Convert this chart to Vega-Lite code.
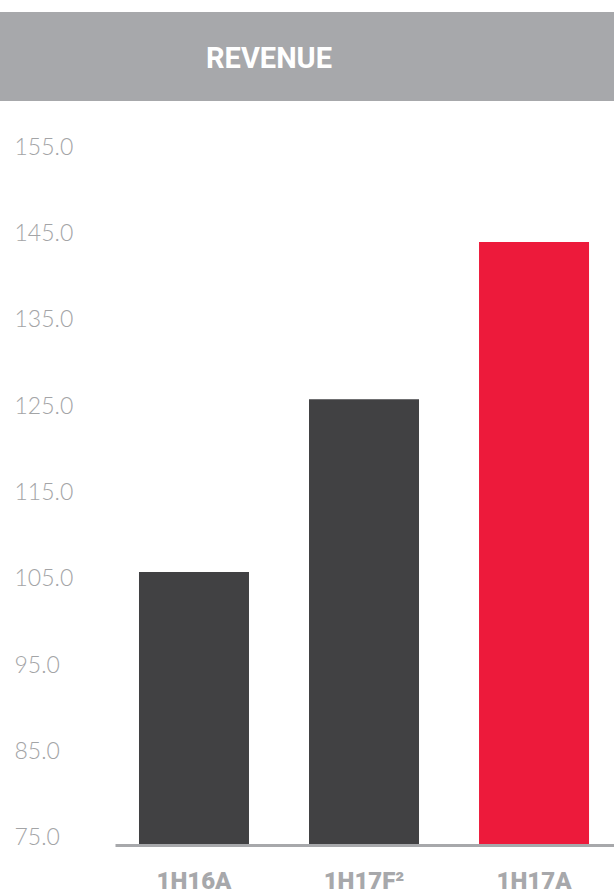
{
  "$schema": "https://vega.github.io/schema/vega-lite/v6.json",
  "width": 614,
  "height": 893,
  "padding": 0,
  "autosize": {"type": "none"},
  "background": "white",
  "config": {"view": {"stroke": null}},
  "layer": [
    {
      "data": {"values": [{"title": "REVENUE"}]},
      "mark": {"type": "rect", "color": "#a7a8ab", "xOffset": 12},
      "encoding": {
        "y": {"datum": 170.63, "type": "quantitative"},
        "y2": {"datum": 160.33}
      }
    },
    {
      "data": {"values": [{"title": "REVENUE"}]},
      "mark": {"type": "text", "color": "white", "font": "Roboto", "fontWeight": "bold", "fontSize": 29, "letterSpacing": 0.6, "baseline": "middle", "align": "center", "xOffset": -38},
      "encoding": {
        "y": {"datum": 165.2, "type": "quantitative"},
        "text": {"field": "title"}
      }
    },
    {
      "data": {"values": [
        {"period": "1H16A", "revenue": 105.8, "kind": "other"},
        {"period": "1H17F²", "revenue": 125.8, "kind": "other"},
        {"period": "1H17A", "revenue": 144.0, "kind": "current"}
      ]},
      "mark": {"type": "bar"},
      "encoding": {
        "x": {
          "field": "period", "type": "nominal",
          "scale": {"domain": ["1H16A", "1H17F²", "1H17A"], "range": [115, 614], "paddingInner": 0.353, "paddingOuter": 0.144, "align": 0.49},
          "axis": {"title": null, "offset": -48, "zindex": 1, "domain": true, "domainColor": "#a7a8ab", "domainWidth": 3, "ticks": false, "labelAngle": 0, "labelPadding": 36, "labelBaseline": "middle", "labelFont": "Roboto", "labelFontWeight": 900, "labelFontSize": 24, "labelColor": "#a7a8ab"}
        },
        "y": {
          "field": "revenue", "type": "quantitative",
          "scale": {"domain": [68.63, 172.02], "nice": false, "zero": false},
          "axis": {"title": null, "domain": false, "ticks": false, "grid": false, "values": [75, 85, 95, 105, 115, 125, 135, 145, 155], "format": ".1f", "labelAlign": "left", "labelPadding": -14, "labelFont": "Lato", "labelFontWeight": 300, "labelFontSize": 23, "labelColor": "#a3a4a6"}
        },
        "y2": {"datum": 74.3},
        "color": {
          "field": "kind", "type": "nominal",
          "scale": {"domain": ["other", "current"], "range": ["#414143", "#ed1a3b"]},
          "legend": null
        }
      }
    }
  ]
}
